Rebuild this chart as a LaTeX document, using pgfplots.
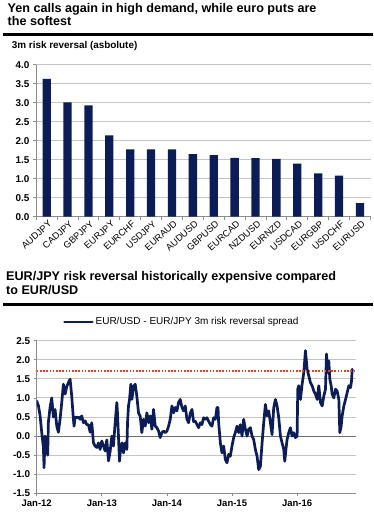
\documentclass[border=0pt]{standalone}
\usepackage{pgfplots}
\usepackage{pgfplotstable}
\pgfplotsset{compat=1.18}
\usepackage{fontspec}
\setmainfont{Liberation Sans}
\definecolor{navy}{HTML}{0B1C56}
\definecolor{gridgray}{HTML}{C4C4C4}
\definecolor{axgray}{HTML}{8C8C8C}
\definecolor{zerogray}{HTML}{6E6E6E}
\definecolor{redline}{HTML}{E8401A}

\pgfplotstableread{
t v
0.000 0.92
0.026 0.80
0.051 0.55
0.077 0.10
0.103 -0.30
0.113 -0.83
0.128 0.00
0.154 -0.26
0.169 -0.50
0.179 0.35
0.205 0.75
0.231 1.00
0.256 0.50
0.282 0.70
0.308 0.26
0.333 0.10
0.359 0.44
0.385 0.88
0.410 1.36
0.436 1.10
0.462 1.30
0.487 1.40
0.513 1.49
0.538 1.05
0.564 0.44
0.574 0.26
0.590 0.50
0.615 0.48
0.641 0.50
0.667 0.44
0.692 0.53
0.718 0.35
0.744 0.40
0.769 0.30
0.795 0.30
0.821 0.10
0.846 0.35
0.872 -0.18
0.897 -0.26
0.923 -0.30
0.949 -0.18
0.974 -0.35
1.000 -0.13
1.026 -0.26
1.051 -0.39
1.077 -0.10
1.103 -0.65
1.128 -0.40
1.154 0.00
1.179 -0.26
1.205 0.35
1.231 0.88
1.241 0.60
1.256 0.00
1.272 -0.66
1.292 -0.26
1.313 -0.18
1.333 -0.44
1.359 -0.18
1.385 -0.35
1.395 0.35
1.410 0.79
1.426 0.96
1.446 1.36
1.462 0.96
1.487 1.30
1.513 1.36
1.538 1.05
1.564 0.61
1.590 0.52
1.615 0.09
1.641 0.44
1.667 0.26
1.692 0.61
1.718 0.35
1.744 0.53
1.769 0.18
1.795 0.70
1.821 0.26
1.846 0.22
1.872 0.13
1.897 -0.04
1.923 0.09
1.949 0.13
1.974 0.09
2.000 0.13
2.026 0.26
2.051 0.44
2.077 0.79
2.103 0.61
2.128 0.75
2.154 0.66
2.179 0.88
2.205 0.96
2.231 0.75
2.256 0.66
2.282 0.79
2.308 0.44
2.333 0.35
2.359 0.60
2.385 0.70
2.410 0.38
2.436 0.39
2.462 0.30
2.487 0.22
2.513 0.35
2.538 0.30
2.564 0.48
2.590 0.44
2.615 0.48
2.641 0.39
2.667 0.30
2.692 0.26
2.718 0.48
2.744 0.44
2.769 0.75
2.785 0.75
2.795 0.35
2.821 -0.18
2.846 -0.44
2.872 -0.26
2.897 -0.61
2.923 -0.70
2.949 -0.48
2.974 -0.53
3.000 -0.26
3.026 -0.04
3.051 0.09
3.077 0.26
3.103 0.09
3.128 0.30
3.154 0.00
3.179 0.44
3.205 0.18
3.231 0.00
3.256 0.18
3.282 0.22
3.308 0.00
3.333 -0.09
3.359 -0.35
3.385 -0.53
3.410 -0.88
3.436 -0.79
3.462 -0.18
3.487 0.35
3.513 0.83
3.538 0.53
3.564 0.66
3.590 0.35
3.615 0.04
3.641 0.75
3.667 0.96
3.692 0.79
3.718 0.48
3.744 0.00
3.769 -0.18
3.795 -0.35
3.810 -0.66
3.831 -0.31
3.846 -0.09
3.872 0.09
3.897 0.22
3.923 0.00
3.949 0.09
3.974 -0.04
4.000 0.00
4.010 1.23
4.026 1.32
4.051 0.96
4.077 1.36
4.103 1.67
4.128 2.24
4.154 1.75
4.179 1.58
4.205 1.40
4.231 1.32
4.256 1.18
4.282 1.10
4.308 0.96
4.333 1.32
4.359 0.88
4.385 0.79
4.410 1.05
4.436 1.23
4.451 2.15
4.472 1.67
4.487 1.97
4.503 1.49
4.523 1.32
4.538 1.10
4.564 1.00
4.590 1.23
4.615 1.18
4.641 0.96
4.656 0.09
4.677 0.26
4.692 0.53
4.718 0.79
4.744 0.96
4.769 1.14
4.795 1.32
4.821 1.27
4.836 1.45
4.846 1.75
}\spread

\begin{document}
\begin{tikzpicture}
\path[use as bounding box] (0pt,0pt) rectangle (373pt,-519pt);
% headings
\node[anchor=base west, inner sep=0pt, font=\bfseries\fontsize{12.6}{13.4}\selectfont] at (7.5pt,-12.3pt) {Yen calls again in high demand, while euro puts are};
\node[anchor=base west, inner sep=0pt, font=\bfseries\fontsize{12.6}{13.4}\selectfont] at (7.5pt,-25.7pt) {the softest};
\draw[black, line width=2.3pt] (3pt,-34.5pt) -- (373pt,-34.5pt);
\node[anchor=base west, inner sep=0pt, font=\bfseries\fontsize{9.9}{11}\selectfont] at (11.7pt,-48.5pt) {3m risk reversal (asbolute)};

\node[anchor=base west, inner sep=0pt, font=\bfseries\fontsize{12.6}{13.4}\selectfont] at (6pt,-280.7pt) {EUR/JPY risk reversal historically expensive compared};
\node[anchor=base west, inner sep=0pt, font=\bfseries\fontsize{12.6}{13.4}\selectfont] at (6pt,-294.1pt) {to EUR/USD};
\draw[black, line width=2.3pt] (3pt,-304.5pt) -- (373pt,-304.5pt);

% top chart
\begin{axis}[
  at={(36pt,-216.7pt)}, anchor=south west,
  scale only axis, width=335pt, height=152pt,
  xmin=-0.51, xmax=15.53, ymin=0, ymax=4,
  axis lines*=left,
  axis line style={draw=axgray, line width=0.8pt},
  tick align=outside,
  major tick length=3pt, minor tick length=3pt,
  tick style={draw=axgray, line width=0.8pt},
  ytick={0,0.5,...,4},
  ymajorgrids,
  grid style={draw=gridgray, line width=0.9pt},
  yticklabel style={font=\bfseries\fontsize{9.9}{11}\selectfont, /pgf/number format/.cd, fixed, fixed zerofill, precision=1, assume math mode=true},
  xtick={0,...,15},
  xticklabels={AUDJPY,CADJPY,GBPJPY,EURJPY,EURCHF,USDJPY,EURAUD,AUDUSD,GBPUSD,EURCAD,NZDUSD,EURNZD,USDCAD,EURGBP,USDCHF,EURUSD},
  major x tick style={draw=none},
  minor xtick={-0.5,0.5,...,15.5},
  xticklabel style={rotate=42, anchor=north east, font=\fontsize{9.3}{10}\selectfont, inner sep=1pt, xshift=2pt},
]
\addplot[ybar, bar width=8.3pt, fill=navy, draw=none] coordinates {
(0,3.63) (1,3.01) (2,2.93) (3,2.14) (4,1.77) (5,1.77) (6,1.77) (7,1.65)
(8,1.62) (9,1.55) (10,1.54) (11,1.52) (12,1.40) (13,1.14) (14,1.08) (15,0.36)};
\end{axis}

% bottom chart
\begin{axis}[
  at={(36.7pt,-493.3pt)}, anchor=south west,
  scale only axis, width=319pt, height=152.6pt,
  xmin=0, xmax=4.9, ymin=-1.5, ymax=2.5,
  axis lines*=left,
  axis line style={draw=axgray, line width=0.8pt},
  tick align=outside,
  major tick length=3pt,
  tick style={draw=axgray, line width=0.8pt},
  ytick={-1.5,-1,...,2.5},
  ymajorgrids,
  grid style={draw=gridgray, line width=0.9pt},
  yticklabel style={font=\bfseries\fontsize{9.9}{11}\selectfont, /pgf/number format/.cd, fixed, fixed zerofill, precision=1, assume math mode=true},
  xtick={0,1,2,3,4},
  xticklabels={Jan-12,Jan-13,Jan-14,Jan-15,Jan-16},
  xticklabel style={font=\bfseries\fontsize{9.5}{10}\selectfont},
  legend style={at={(0.455,1.123)}, anchor=center, draw=none, fill=none, font=\fontsize{10}{11}\selectfont, inner sep=0pt},
  legend image code/.code={\draw[navy, line width=2.4pt] (0pt,0pt) -- (28pt,0pt);},
]
\addplot[zerogray, line width=1.1pt, forget plot] coordinates {(0,0) (4.9,0)};
\addplot[navy, line width=2.7pt, line join=round, line cap=round] table[x=t, y=v] {\spread};
\addlegendentry{EUR/USD - EUR/JPY 3m risk reversal spread}
\addplot[redline, line width=1.8pt, dash pattern=on 1.6pt off 1.6pt, forget plot] coordinates {(0,1.7) (4.9,1.7)};
\end{axis}
\end{tikzpicture}
\end{document}
